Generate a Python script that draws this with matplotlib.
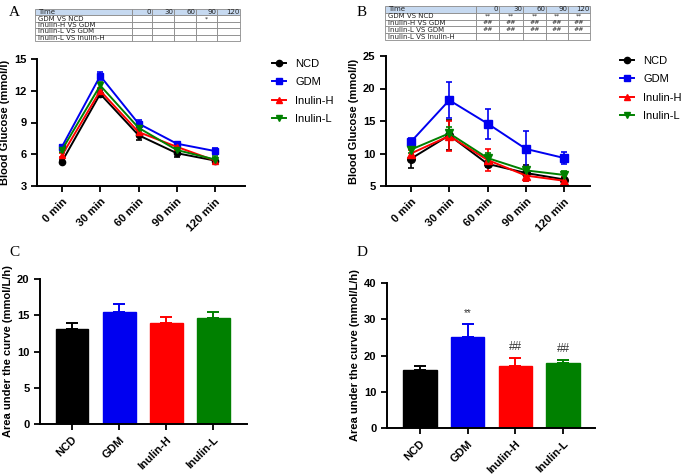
import matplotlib
matplotlib.use("Agg")
import matplotlib.pyplot as plt
from matplotlib.lines import Line2D
import numpy as np

plt.rcParams['font.family'] = ['Liberation Sans', 'DejaVu Sans']

# ---------------- data ----------------
times = ["0 min", "30 min", "60 min", "90 min", "120 min"]
groups = ["NCD", "GDM", "Inulin-H", "Inulin-L"]
colors = ["#000000", "#0000F0", "#FF0000", "#008000"]
markers = ["o", "s", "^", "v"]

# Panel A
a_ncd = [5.3, 11.7, 7.8, 6.1, 5.4]
a_gdm = [6.7, 13.4, 8.9, 7.0, 6.3]
a_inh = [5.9, 12.0, 8.1, 6.7, 5.4]
a_inl = [6.4, 12.5, 8.5, 6.4, 5.5]
a_ncd_err = [0.15, 0.3, 0.5, 0.35, 0.2]
a_gdm_err = [0.2, 0.35, 0.35, 0.2, 0.25]
a_inh_err = [0.2, 0.3, 0.35, 0.25, 0.2]
a_inl_err = [0.2, 0.35, 0.3, 0.25, 0.3]

# Panel B
b_ncd = [9.2, 12.8, 8.4, 7.0, 6.0]
b_gdm = [11.8, 18.2, 14.6, 10.7, 9.3]
b_inh = [10.0, 12.7, 9.0, 6.6, 5.8]
b_inl = [10.6, 13.1, 9.3, 7.4, 6.7]
b_ncd_err = [1.5, 2.3, 0.5, 1.3, 0.4]
b_gdm_err = [0.6, 2.8, 2.3, 2.8, 0.9]
b_inh_err = [0.6, 2.3, 1.7, 0.8, 0.6]
b_inl_err = [0.5, 1.0, 0.8, 0.6, 0.6]

# Panel C (AUC)
c_vals = [13.1, 15.5, 13.9, 14.6]
c_errs = [0.9, 1.1, 0.9, 0.9]

# Panel D (AUC)
d_vals = [15.9, 25.0, 17.2, 17.9]
d_errs = [1.2, 3.8, 2.1, 0.9]
d_marks = ["", "**", "##", "##"]

# Tables
tab_cols = ["Time", "0", "30", "60", "90", "120"]
tab_rows = ["GDM VS NCD", "Inulin-H VS GDM", "Inulin-L VS GDM", "Inulin-L VS Inulin-H"]
tab_a = [["", "", "", "*", ""],
         ["", "", "", "", ""],
         ["", "", "", "", ""],
         ["", "", "", "", ""]]
tab_b = [["**", "**", "**", "**", "**"],
         ["##", "##", "##", "##", "##"],
         ["##", "##", "##", "##", "##"],
         ["", "", "", "", ""]]

W, H = 685, 476
fig = plt.figure(figsize=(W / 100, H / 100), dpi=100)


def px_axes(l, t, r, b):
    return fig.add_axes([l / W, 1 - b / H, (r - l) / W, (b - t) / H])


def style(ax):
    for s in ["top", "right"]:
        ax.spines[s].set_visible(False)
    for s in ["left", "bottom"]:
        ax.spines[s].set_linewidth(1.4)
    ax.tick_params(width=1.3, length=4, labelsize=8)
    for lab in ax.get_xticklabels() + ax.get_yticklabels():
        lab.set_fontweight("bold")


def draw_table(l, t, r, b, colw, data):
    tax = px_axes(l, t, r, b)
    tax.axis("off")
    cell = [tab_cols] + [[rn] + row for rn, row in zip(tab_rows, data)]
    tot = sum(colw)
    tb = tax.table(cellText=cell, bbox=[0, 0, 1, 1],
                   colWidths=[c / tot for c in colw], cellLoc="right")
    tb.auto_set_font_size(False)
    for (r_, c_), cl in tb.get_celld().items():
        cl.set_edgecolor("#8a8a8a")
        cl.set_linewidth(0.6)
        txt = cl.get_text()
        txt.set_fontsize(5.0 if c_ == 0 or r_ == 0 else 4.5)
        txt.set_family(["DejaVu Sans"])
        txt.set_color("#222222")
        cl.PAD = 0.03
        if c_ == 0:
            txt.set_ha("left")
            cl._loc = "left"
        elif r_ > 0:
            txt.set_ha("center")
            cl._loc = "center"
        if r_ == 0:
            cl.set_facecolor("#c6d9f0")


def line_panel(l, t, r, b, series, errs, ylim, yticks, xlim, ms):
    ax = px_axes(l, t, r, b)
    x = np.arange(len(times))
    for vals, err, c, m in zip(series, errs, colors, markers):
        ax.errorbar(x, vals, yerr=err, color=c, marker=m, markersize=ms,
                    linewidth=1.4, elinewidth=1.2, capsize=2.5, capthick=1.2)
    ax.set_xlim(*xlim)
    ax.set_ylim(*ylim)
    ax.set_yticks(yticks)
    ax.set_xticks(x)
    ax.set_xticklabels(times, rotation=45, ha="right", rotation_mode="anchor")
    ax.set_ylabel("Blood Glucose (mmol/l)", fontsize=8, fontweight="bold",
                  labelpad=3)
    style(ax)
    return ax


def add_legend(ax, xpx, ypx):
    handles = [Line2D([0], [0], color=c, marker=m, markersize=4.5, linewidth=1.4)
               for c, m in zip(colors, markers)]
    ax.legend(handles, groups, loc="upper left",
              bbox_to_anchor=(xpx / W, 1 - ypx / H),
              bbox_transform=fig.transFigure, frameon=False, fontsize=8,
              handlelength=1.3, handletextpad=0.8, borderpad=0,
              borderaxespad=0, labelspacing=0.75)


def bar_panel(l, t, r, b, vals, errs, ylim, yticks, xlim):
    ax = px_axes(l, t, r, b)
    x = np.arange(len(groups))
    ax.bar(x, vals, width=0.7, color=colors, edgecolor=colors, zorder=2)
    for xi, v, e, c in zip(x, vals, errs, colors):
        ax.errorbar([xi], [v], yerr=[[0], [e]], color=c, elinewidth=1.4,
                    capsize=4, capthick=1.4, zorder=1)
    ax.set_xlim(*xlim)
    ax.set_ylim(*ylim)
    ax.set_yticks(yticks)
    ax.set_xticks(x)
    ax.set_xticklabels(groups, rotation=45, ha="right", rotation_mode="anchor")
    ax.set_ylabel("Area under the curve (mmol/L/h)", fontsize=8,
                  fontweight="bold", labelpad=3)
    style(ax)
    return ax


# Panel A
axA = line_panel(37, 59, 245, 186, [a_ncd, a_gdm, a_inh, a_inl],
                 [a_ncd_err, a_gdm_err, a_inh_err, a_inl_err],
                 (3, 15), [3, 6, 9, 12, 15], (-0.65, 4.78), 4.5)
add_legend(axA, 272, 59)

# Panel B
axB = line_panel(386, 56, 590, 186, [b_ncd, b_gdm, b_inh, b_inl],
                 [b_ncd_err, b_gdm_err, b_inh_err, b_inl_err],
                 (5, 25), [5, 10, 15, 20, 25], (-0.65, 4.67), 5.5)
add_legend(axB, 620, 56)

# Panel C
axC = bar_panel(40, 279, 247, 424, c_vals, c_errs, (0, 20), [0, 5, 10, 15, 20],
                (-0.68, 3.72))

# Panel D
axD = bar_panel(387, 283, 595, 428, d_vals, d_errs, (0, 40),
                [0, 10, 20, 30, 40], (-0.69, 3.67))
for xi, v, e, s in zip(range(len(groups)), d_vals, d_errs, d_marks):
    if s:
        fs = 7 if s == "**" else 8.5
        axD.text(xi, v + e + 1.4, s, ha="center", va="bottom", fontsize=fs,
                 color="#333333")

# Tables
draw_table(35, 9, 240, 41, [97, 20, 22, 22, 21, 23], tab_a)
draw_table(385, 6, 590, 40, [91, 23, 24, 23, 22, 22], tab_b)

# Panel letters
for letter, (x, y) in zip("ABCD", [(9, 16), (357, 16), (9, 256), (357, 256)]):
    fig.text(x / W, 1 - y / H, letter, fontsize=11,
             family=["Liberation Serif", "DejaVu Serif"])

fig.savefig("out.png", dpi=100)
